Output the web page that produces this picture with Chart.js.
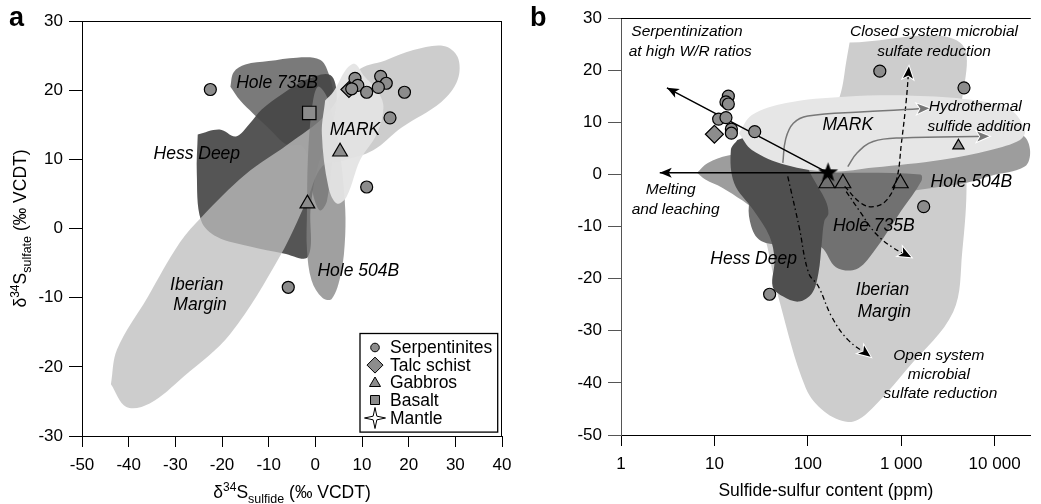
<!DOCTYPE html>
<html>
<head>
<meta charset="utf-8">
<script src="https://cdn.jsdelivr.net/npm/chart.js@4.4.1/dist/chart.umd.min.js"></script>
<style>
  html, body { margin: 0; padding: 0; background: #fff; }
  #wrap { position: relative; width: 1041px; height: 504px; overflow: hidden; }
  canvas { position: absolute; top: 0; }
  #ca { left: 0; }
  #cb { left: 520px; }
</style>
</head>
<body>
<div id="wrap">
  <canvas id="ca" width="520" height="504"></canvas>
  <canvas id="cb" width="521" height="504"></canvas>
</div>
<script>
// ---------- panel a : d34S sulfate vs d34S sulfide ----------
const aSerpentinites = [[-22.5,20.1],[8.5,21.7],[9.1,20.7],[7.8,20.2],[11.0,19.7],[14.0,22.0],[15.2,21.0],[13.5,20.4],[19.1,19.7],[16.0,16.0],[11.0,6.0],[-5.8,-8.5]];
const aTalcSchist = [[7.2,20.1]];
const aGabbros = [[5.3,11.1],[-1.7,3.6]];
const aBasalt = [[-1.3,16.7]];

// fields (outlines)
const aHessDeep = [[-25.2,13.6],[-20.5,14.3],[-17,13.3],[-14,15.2],[-11.5,17.2],[-7,19.5],[-2,21.5],[3.2,22.2],[4.6,19],[3.2,14],[0.5,9],[-1,3],[-1.6,-4.1],[-6.8,-3.6],[-14,-2.6],[-21.1,-1.2],[-24.5,1.2],[-25.4,8]];
const aHole735B = [[-18.2,20.5],[-17.5,22.6],[-15,23.7],[-10,24.2],[-4,24.7],[1,24.4],[2.8,22.5],[4,19],[3.8,12],[2.5,4],[1,2.6],[-0.5,5],[-1.5,10],[-3,12],[-6.1,12.1],[-10,14.5],[-13.3,16.6],[-16.1,18.5]];
const aIberian = [[-43.8,-22.5],[-42.5,-17.5],[-36,-10],[-29,-2],[-24.3,1.7],[-15,7.8],[-6,12.1],[2.5,16.6],[9,22.8],[15,24.3],[21,25.8],[27.5,26.4],[30.5,24.8],[30.5,21.5],[27,18.3],[18.5,14.6],[12.4,11.3],[6,9.8],[1.5,9],[-1.8,4.1],[-7.5,-3.9],[-18.2,-15.2],[-28.2,-21.4],[-35.5,-25.3],[-40.5,-25.8]];
const aHole504B = [[-1.8,2.5],[-1.6,10],[-0.8,17],[0.5,20.5],[2.5,19],[5,12],[6.3,4],[6.4,-1],[5.5,-6.5],[3.5,-10.2],[1.5,-10],[-0.8,-7.5],[-1.8,-3]];
const aMARK = [[2.1,18.5],[3.9,19.8],[6.7,23.1],[8.5,23.8],[10.5,22],[13.2,20],[14.6,17.6],[13.2,13.7],[9.6,9.9],[6.7,4.6],[4.6,3.6],[2.8,6],[1.4,13.7]];

const aLabels = [['Hole 735B',-8.2,21.0],['Hess Deep',-25.4,10.7],['MARK',8.5,14.2],['Hole 504B',9.2,-6.2],['Iberian',-25.4,-8.2],['Margin',-24.7,-11.1]];
const legendNames = ['Serpentinites','Talc schist','Gabbros','Basalt','Mantle'];

// ---------- panel b : d34S sulfide vs sulfide-sulfur content ----------
const bSerpentinites = [[14.1,15.0],[13.3,13.9],[14.1,13.5],[11.1,10.6],[13.3,10.9],[15.2,8.7],[15.2,7.9],[27,8.2],[590,19.8],[4700,16.6],[1740,-6.2],[39,-23.0]];
const bTalcSchist = [[10,7.7]];
const bGabbrosOpen = [[160,-1.7],[238,-1.7],[980,-1.7]];
const bGabbros = [[4100,5.5]];
const bMantle = [[165,0.3]];

const bIberian = [[280,25.3],[4250,25.3],[4300,10],[5000,-1],[4500,-14.9],[3600,-26.4],[1200,-37],[420,-46],[270,-47.5],[150,-45.5],[95,-41],[50,-24.5],[37,-14],[30,-6],[50,0],[150,9],[220,15],[260,22]];
const bHole504B = [[6.5,0.3],[8.5,2.2],[14,3.6],[30,4.5],[100,5.5],[1000,7],[10000,8],[20000,7.5],[24000,4.5],[21000,1.5],[9000,-0.3],[5000,-1.6],[1500,-3],[400,-4.8],[170,-6.2],[60,-7.2],[30,-7],[20,-5],[12,-2.5],[8,-1]];
const bHole735B = [[100,0.3],[1600,0],[1650,-1.2],[1000,-7],[500,-15],[330,-18.2],[200,-17.8],[140,-14],[90,-13],[50,-13.5],[30,-12.5],[24,-9],[24,-5],[30,-3],[60,-1.5]];
const bHessDeep = [[17.6,6.6],[15,4.7],[16.3,-1.7],[26,-6.8],[39,-11.9],[44,-16.4],[42,-21.5],[54,-23.4],[80,-24.4],[111,-22.8],[130,-18.9],[141,-13.2],[150,-9],[166,-7.5],[155,-5],[111,-0.4],[88,3.4],[74,7],[40,8.5]];
const bMARK = [[18.3,7.9],[25.2,11.4],[58.5,13.7],[248,14.9],[1330,15.1],[5650,14.3],[14700,12.4],[21100,8.5],[18700,6.6],[9100,4.7],[2740,2.8],[508,1.3],[172,0.5],[58.5,1.8],[25.2,4.7]];

const bArrowSerp = [[165,0.3],[3.1,16.6]];
const bArrowMelt = [[165,0.3],[2.6,0.3]];
const bArrowHydro1 = [[54,2.2],[58,6.8],[70,9.8],[100,11.2],[400,12.0],[2000,12.7]];
const bArrowHydro2 = [[268,1.5],[340,4.2],[500,6.3],[1000,7.0],[8750,7.3]];
const bArrowClosed = [[248,-2.3],[370,-5.5],[509,-6.2],[701,-4.9],[891,-1.0],[1005,6.0],[1134,14.3],[1209,20.7]];
const bArrowOpen1 = [[258,-3.3],[370,-7.4],[530,-11.3],[823,-14.1],[1278,-15.9]];
const bArrowOpen2 = [[61,-0.4],[80.6,-10],[102,-18.9],[130,-21.5],[180,-27.3],[268,-31.7],[470,-35]];

const bTickValues = [1, 10, 100, 1000, 10000];
const bTickLabels = ['1', '10', '100', '1 000', '10 000'];

const bRegionLabels = [['MARK',268,9.5],['Hole 504B',5640,-1.4],['Hole 735B',509,-10],['Hess Deep',26.3,-16.3],['Iberian',631,-22.2],['Margin',658,-26.4]];
const bNotes = [['Serpentinization',5.08,27.4],['at high W/R ratios',5.51,23.6],['Closed system microbial',2244,27.4],['sulfate reduction',2244,23.6],['Hydrothermal',6200,13.0],['sulfide addition',6820,9.2],['Melting',3.41,-3.0],['and leaching',3.84,-6.8],['Open system',2530,-34.8],['microbial',2530,-38.5],['sulfate reduction',2630,-42.1]];

// ---------- helpers ----------
const FONT = '"Liberation Sans", Arial, Helvetica, sans-serif';
Chart.defaults.font.family = FONT;
Chart.defaults.font.size = 17;
Chart.defaults.color = '#000';

const GRAY = '#8c8c8c';
const pts = arr => arr.map(([x, y]) => ({ x, y }));

function region(data, color, order) {
  return {
    type: 'line', data: pts(data.concat([data[0]])), fill: 'shape',
    backgroundColor: color, borderColor: 'rgba(0,0,0,0)', borderWidth: 1,
    pointRadius: 0, tension: 0.35, order: order
  };
}
function arrow(data, color, width, dash, head) {
  return {
    type: 'line', data: pts(data), fill: false, borderColor: color, borderWidth: width,
    borderDash: dash, pointRadius: 0, tension: 0.4, order: 5, arrow: head
  };
}
function markers(data, style, radius, fill, order) {
  return {
    type: 'scatter', data: pts(data), pointStyle: style, pointRadius: radius,
    backgroundColor: fill, borderColor: '#000', borderWidth: 1.2, order: order
  };
}

function mkStar(R, r, n, fill, stroke) {
  const c = document.createElement('canvas');
  const s = Math.ceil(R * 2 + 4);
  c.width = s; c.height = s;
  const g = c.getContext('2d');
  g.translate(s / 2, s / 2);
  g.beginPath();
  for (let i = 0; i < n * 2; i++) {
    const rad = i % 2 ? r : R;
    const a = -Math.PI / 2 + i * Math.PI / n;
    g.lineTo(Math.cos(a) * rad, Math.sin(a) * rad);
  }
  g.closePath();
  g.fillStyle = fill; g.fill();
  if (stroke) { g.strokeStyle = stroke; g.lineWidth = 1.2; g.stroke(); }
  return c;
}

// mixed-size text (super/subscripts), centred on (cx, cy)
function richText(ctx, parts, cx, cy, rotate) {
  ctx.save();
  ctx.translate(cx, cy);
  if (rotate) ctx.rotate(-Math.PI / 2);
  let w = 0;
  parts.forEach(p => { ctx.font = p.s + 'px ' + FONT; w += ctx.measureText(p.t).width; });
  let x = -w / 2;
  ctx.textAlign = 'left'; ctx.textBaseline = 'alphabetic'; ctx.fillStyle = '#000';
  parts.forEach(p => {
    ctx.font = p.s + 'px ' + FONT;
    ctx.fillText(p.t, x, 6 + (p.dy || 0));
    x += ctx.measureText(p.t).width;
  });
  ctx.restore();
}

function arrowHead(ctx, x, y, px, py, color, outline) {
  const a = Math.atan2(y - py, x - px);
  ctx.save();
  ctx.translate(x, y); ctx.rotate(a);
  ctx.beginPath();
  ctx.moveTo(0, 0); ctx.lineTo(-12, 5); ctx.lineTo(-9, 0); ctx.lineTo(-12, -5); ctx.closePath();
  if (outline) { ctx.strokeStyle = '#fff'; ctx.lineWidth = 2; ctx.lineJoin = 'miter'; ctx.stroke(); }
  ctx.fillStyle = color; ctx.fill();
  ctx.restore();
}

function decoPlugin(cfg) {
  return {
    id: 'deco_' + cfg.name,
    afterDatasetsDraw(chart) {
      const { ctx, scales: { x, y } } = chart;
      // arrow heads at the end of arrow datasets
      chart.data.datasets.forEach((ds, i) => {
        if (!ds.arrow) return;
        const el = chart.getDatasetMeta(i).data;
        const last = el[el.length - 1], prev = el[el.length - 2];
        arrowHead(ctx, last.x, last.y, prev.x, prev.y, ds.arrow.color, ds.arrow.outline);
      });
      ctx.save();
      ctx.fillStyle = '#000'; ctx.textAlign = 'center'; ctx.textBaseline = 'middle';
      cfg.labels.forEach(([t, vx, vy, size]) => {
        ctx.font = 'italic ' + size + 'px ' + FONT;
        ctx.fillText(t, x.getPixelForValue(vx), y.getPixelForValue(vy));
      });
      ctx.restore();
    },
    afterDraw(chart) {
      const { ctx, chartArea: ca } = chart;
      ctx.save();
      ctx.strokeStyle = '#000'; ctx.lineWidth = 1;
      ctx.beginPath();
      const top = Math.round(ca.top) + 0.5;
      ctx.moveTo(ca.left, top); ctx.lineTo(ca.right, top);
      if (cfg.rightBorder) { const r = Math.round(ca.right) - 0.5; ctx.moveTo(r, top); ctx.lineTo(r, ca.bottom); }
      ctx.stroke();
      ctx.restore();
      // axis titles
      richText(ctx, cfg.xTitle, (ca.left + ca.right) / 2, cfg.xTitleY, false);
      richText(ctx, cfg.yTitle, cfg.yTitleX, (ca.top + ca.bottom) / 2, true);
      // panel letter
      ctx.save();
      ctx.font = 'bold 27px ' + FONT; ctx.fillStyle = '#000';
      ctx.textAlign = 'left'; ctx.textBaseline = 'alphabetic';
      ctx.fillText(cfg.letter, cfg.letterX, 26);
      ctx.restore();
      if (cfg.legend) cfg.legend(ctx, ca);
    }
  };
}

function drawLegend(ctx, ca) {
  const L = ca.right - 142, T = ca.bottom - 102.5, W = 137.7, H = 98.6;
  ctx.save();
  ctx.fillStyle = '#fff'; ctx.fillRect(L, T, W, H);
  ctx.strokeStyle = '#000'; ctx.lineWidth = 1.3; ctx.strokeRect(L, T, W, H);
  const rows = [14, 31.6, 49, 66.5, 84.5];
  const sx = L + 15;
  ctx.lineWidth = 1;
  rows.forEach((dy, i) => {
    const cy = T + dy;
    ctx.beginPath();
    if (i === 0) ctx.arc(sx, cy, 4.3, 0, Math.PI * 2);
    if (i === 1) { ctx.moveTo(sx, cy - 8); ctx.lineTo(sx + 8, cy); ctx.lineTo(sx, cy + 8); ctx.lineTo(sx - 8, cy); ctx.closePath(); }
    if (i === 2) { ctx.moveTo(sx, cy - 5.5); ctx.lineTo(sx + 5.5, cy + 4); ctx.lineTo(sx - 5.5, cy + 4); ctx.closePath(); }
    if (i === 3) ctx.rect(sx - 4.5, cy - 4.5, 9, 9);
    if (i === 4) {
      for (let k = 0; k < 8; k++) {
        const rad = k % 2 ? 2.6 : 10.5;
        const a = -Math.PI / 2 + k * Math.PI / 4;
        ctx.lineTo(sx + Math.cos(a) * rad, cy + Math.sin(a) * rad);
      }
      ctx.closePath();
    }
    ctx.fillStyle = i === 4 ? '#fff' : GRAY;
    ctx.fill(); ctx.strokeStyle = '#000'; ctx.stroke();
    ctx.fillStyle = '#000'; ctx.font = '17.5px ' + FONT;
    ctx.textAlign = 'left'; ctx.textBaseline = 'middle';
    ctx.fillText(legendNames[i], L + 30, cy + 1);
  });
  ctx.restore();
}

function axisOpts(extra, tickLen, color, fit) {
  return Object.assign({
    ticks: { padding: 6, color: '#000', font: { size: 17 }, maxRotation: 0, autoSkip: false },
    grid: { drawOnChartArea: false, drawTicks: true, tickLength: tickLen, color: color, lineWidth: 1 },
    border: { display: true, color: color, width: 1 },
    afterFit: fit
  }, extra);
}

// ---------- chart a ----------
const mantleStar = mkStar(10.5, 4.3, 5, '#000', null);

new Chart(document.getElementById('ca'), {
  type: 'scatter',
  data: {
    datasets: [
      markers(aSerpentinites, 'circle', 6, GRAY, 1),
      markers(aTalcSchist, 'rectRot', 8, GRAY, 2),
      markers(aGabbros, 'triangle', 8.5, GRAY, 1),
      markers(aBasalt, 'rect', 9.5, GRAY, 1),
      region(aMARK, 'rgba(228,228,228,0.95)', 16),
      region(aHole504B, 'rgba(130,130,130,0.76)', 17),
      region(aIberian, 'rgba(190,190,190,0.77)', 18),
      region(aHole735B, 'rgba(71,71,71,0.72)', 19),
      region(aHessDeep, 'rgb(85,85,85)', 20)
    ]
  },
  options: {
    responsive: false, animation: false,
    layout: { padding: { top: 21, right: 18, left: 0, bottom: 0 } },
    plugins: { legend: { display: false }, tooltip: { enabled: false } },
    scales: {
      x: axisOpts({ type: 'linear', min: -50, max: 40, ticks: { stepSize: 10, padding: 8, color: '#000', font: { size: 17 }, maxRotation: 0, autoSkip: false } }, 11, '#000', s => { s.height = 68; }),
      y: axisOpts({ type: 'linear', min: -30, max: 30, ticks: { stepSize: 10, padding: 6, color: '#000', font: { size: 17 } } }, 13, '#000', s => { s.width = 82; })
    }
  },
  plugins: [decoPlugin({
    name: 'a', rightBorder: true, letter: 'a', letterX: 9,
    labels: aLabels.map(l => l.concat([17.5])),
    xTitle: [{ t: 'δ', s: 17.5 }, { t: '34', s: 12, dy: -7 }, { t: 'S', s: 17.5 }, { t: 'sulfide', s: 12.5, dy: 5 }, { t: ' (‰ VCDT)', s: 17.5 }],
    xTitleY: 492,
    yTitle: [{ t: 'δ', s: 17.5 }, { t: '34', s: 12, dy: -7 }, { t: 'S', s: 17.5 }, { t: 'sulfate', s: 12.5, dy: 5 }, { t: ' (‰ VCDT)', s: 17.5 }],
    yTitleX: 20,
    legend: drawLegend
  })]
});

// ---------- chart b ----------
new Chart(document.getElementById('cb'), {
  type: 'scatter',
  data: {
    datasets: [
      markers(bSerpentinites, 'circle', 6, GRAY, 1),
      markers(bTalcSchist, 'rectRot', 9, GRAY, 1),
      markers(bGabbrosOpen, 'triangle', 9, 'rgba(0,0,0,0)', 1),
      markers(bGabbros, 'triangle', 6.5, GRAY, 1),
      Object.assign(markers(bMantle, mantleStar, 10, '#000', 0), { borderWidth: 0 }),
      arrow(bArrowSerp, '#000', 1.5, [], { color: '#000', outline: false }),
      arrow(bArrowMelt, '#000', 1.5, [], { color: '#000', outline: false }),
      arrow(bArrowHydro1, '#777', 1.5, [], { color: '#777', outline: true }),
      arrow(bArrowHydro2, '#777', 1.5, [], { color: '#777', outline: true }),
      arrow(bArrowClosed, '#000', 1.3, [5, 3], { color: '#000', outline: true }),
      arrow(bArrowOpen1, '#000', 1.3, [5, 3, 1.5, 3], { color: '#000', outline: true }),
      arrow(bArrowOpen2, '#000', 1.3, [5, 3, 1.5, 3], { color: '#000', outline: true }),
      region(bMARK, '#e6e6e6', 16),
      region(bHessDeep, '#4f4f4f', 17),
      region(bHole735B, '#717171', 18),
      region(bHole504B, '#9d9d9d', 19),
      region(bIberian, '#cdcdcd', 20)
    ]
  },
  options: {
    responsive: false, animation: false,
    layout: { padding: { top: 18, right: 0, left: 0, bottom: 0 } },
    plugins: { legend: { display: false }, tooltip: { enabled: false } },
    scales: {
      x: axisOpts({
        type: 'logarithmic', min: 1, max: 24400,
        afterBuildTicks: s => { s.ticks = bTickValues.map(v => ({ value: v })); },
        ticks: {
          padding: 8, color: '#000', font: { size: 17 }, maxRotation: 0, autoSkip: false,
          callback: v => { const i = bTickValues.indexOf(v); return i >= 0 ? bTickLabels[i] : ''; }
        }
      }, 11, '#000', s => { s.height = 69; }),
      y: axisOpts({ type: 'linear', min: -50, max: 30, ticks: { stepSize: 10, padding: 6, color: '#000', font: { size: 17 } } }, 13, '#555', s => { s.width = 101; })
    }
  },
  plugins: [decoPlugin({
    name: 'b', rightBorder: false, letter: 'b', letterX: 10,
    labels: bRegionLabels.map(l => l.concat([17.5])).concat(bNotes.map(l => l.concat([15.5]))),
    xTitle: [{ t: 'Sulfide-sulfur content (ppm)', s: 17.5 }],
    xTitleY: 490,
    yTitle: [{ t: 'δ', s: 17.5 }, { t: '34', s: 12, dy: -7 }, { t: 'S', s: 17.5 }, { t: 'sulfide', s: 12.5, dy: 5 }, { t: ' (‰ VCDT)', s: 17.5 }],
    yTitleX: 555
  })]
});
</script>
</body>
</html>
